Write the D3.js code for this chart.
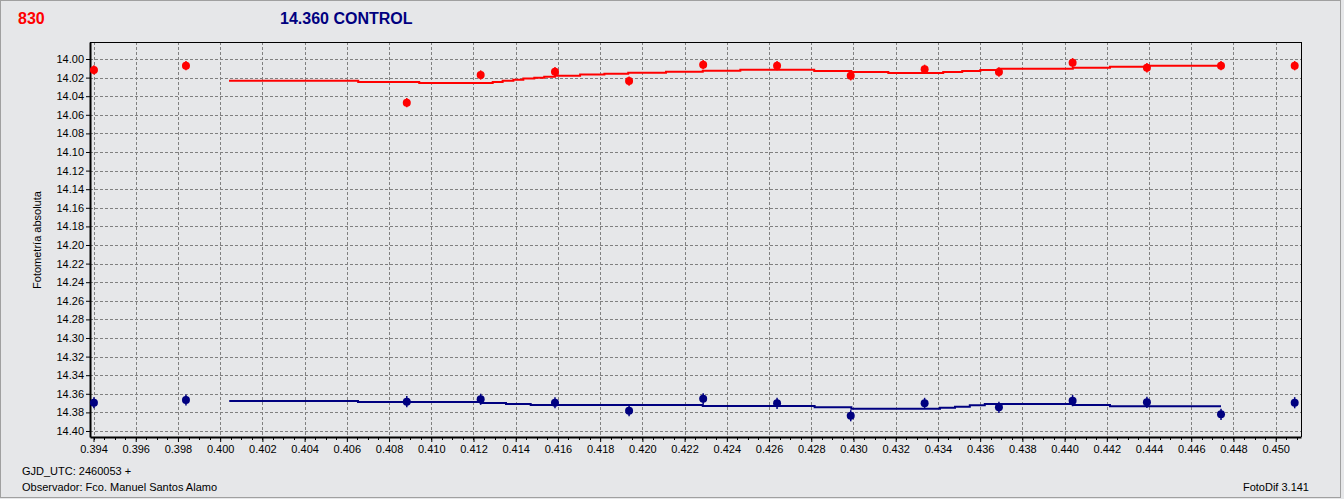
<!DOCTYPE html>
<html><head><meta charset="utf-8">
<script src="https://cdn.jsdelivr.net/npm/d3@7"></script>
<style>
html,body{margin:0;padding:0;background:#e6e7e9;}
svg{display:block;}
text{font-family:"Liberation Sans",Arial,sans-serif;}
</style></head>
<body>
<svg id="c" width="1344" height="499"></svg>
<script>
// ---- data ----
const xTicks = [0.394,0.396,0.398,0.400,0.402,0.404,0.406,0.408,0.410,0.412,0.414,0.416,0.418,0.420,0.422,0.424,0.426,0.428,0.430,0.432,0.434,0.436,0.438,0.440,0.442,0.444,0.446,0.448,0.450];
const yTicks = [14.00,14.02,14.04,14.06,14.08,14.10,14.12,14.14,14.16,14.18,14.20,14.22,14.24,14.26,14.28,14.30,14.32,14.34,14.36,14.38,14.40];
const obsX = [0.39402,0.39838,0.40884,0.41234,0.41586,0.41937,0.42288,0.42638,0.42987,0.43337,0.43689,0.44038,0.44390,0.44741,0.45090];
const varMag = [14.0118,14.0072,14.0470,14.0172,14.0137,14.0237,14.0061,14.0072,14.0180,14.0111,14.0140,14.0040,14.0094,14.0072,14.0072];
const varErr = [0.005,0.005,0.005,0.005,0.005,0.005,0.005,0.005,0.005,0.005,0.005,0.005,0.005,0.005,0.005];
const ctlMag = [14.3696,14.3667,14.3685,14.3659,14.3696,14.3782,14.3653,14.3703,14.3836,14.3703,14.3746,14.3674,14.3692,14.3821,14.3696];
const ctlErr = [0.006,0.006,0.006,0.006,0.006,0.006,0.006,0.006,0.006,0.006,0.006,0.006,0.006,0.006,0.006];
// smoothed (stepped) curves
const varLineX = [0.40042,0.40654,0.40943,0.41291,0.41338,0.41389,0.41436,0.41488,0.41535,0.41586,0.41705,0.41820,0.41933,0.42112,0.42286,0.42464,0.42814,0.42990,0.43165,0.43425,0.43515,0.43601,0.43687,0.44039,0.44215,0.44390,0.44741];
const varLineY = [14.0233,14.0247,14.0258,14.0247,14.0233,14.0222,14.0211,14.0201,14.0190,14.0179,14.0168,14.0158,14.0147,14.0136,14.0126,14.0115,14.0129,14.0140,14.0151,14.0140,14.0129,14.0118,14.0104,14.0094,14.0083,14.0072,14.0072];
const ctlLineX = [0.40043,0.40653,0.41234,0.41354,0.41471,0.42286,0.42816,0.42990,0.43410,0.43481,0.43551,0.43622,0.44039,0.44215,0.44741];
const ctlLineY = [14.3677,14.3688,14.3699,14.3710,14.3720,14.3731,14.3745,14.3760,14.3750,14.3739,14.3724,14.3710,14.3720,14.3735,14.3735];

const svg = d3.select("#c");
const L=90, R=1301, T=42, B=437;
const x = d3.scaleLinear().domain([0.393834,0.451199]).range([L,R]);
const y = d3.scaleLinear().domain([13.98172,14.40646]).range([T,B]);

// outer frame
svg.append("rect").attr("x",0.5).attr("y",0.5).attr("width",1340).attr("height",497)
  .attr("fill","#e6e7e9").attr("stroke","#a0a0a0");

// grid
const grid = svg.append("g").attr("stroke","#808080").attr("stroke-dasharray","3,2").attr("stroke-width",1);
xTicks.forEach(v=>grid.append("line").attr("x1",Math.round(x(v))+0.5).attr("x2",Math.round(x(v))+0.5).attr("y1",T).attr("y2",B));
yTicks.forEach(v=>grid.append("line").attr("y1",Math.round(y(v))+0.5).attr("y2",Math.round(y(v))+0.5).attr("x1",L).attr("x2",R));

// frame top/right thin
svg.append("line").attr("x1",L).attr("x2",R+0.5).attr("y1",T+0.5).attr("y2",T+0.5).attr("stroke","#000");
svg.append("line").attr("x1",R+0.5).attr("x2",R+0.5).attr("y1",T).attr("y2",B).attr("stroke","#000");

// axes
const minor = d3.range(0,57*4+1).map(i=>0.394+i*0.0005).filter(v=>v<=0.4512);
const xAxis = d3.axisBottom(x).tickValues(xTicks).tickFormat(d3.format(".3f")).tickSize(5).tickSizeOuter(0);
const gx = svg.append("g").attr("transform",`translate(0,${B})`).call(xAxis);
gx.select(".domain").attr("stroke","#000").attr("stroke-width",2);
gx.selectAll(".tick text").attr("font-size",11).attr("fill","#000").attr("dy","0.9em").attr("y",6);
gx.selectAll(".tick line").attr("stroke","#000");
const gm = svg.append("g");
minor.forEach(v=>gm.append("line").attr("x1",Math.round(x(v))+0.5).attr("x2",Math.round(x(v))+0.5).attr("y1",B).attr("y2",B+3).attr("stroke","#000"));

const yAxis = d3.axisLeft(y).tickValues(yTicks).tickFormat(d3.format(".2f")).tickSize(4).tickSizeOuter(0);
const gy = svg.append("g").attr("transform",`translate(${L},0)`).call(yAxis);
gy.select(".domain").attr("stroke","#000").attr("stroke-width",2);
gy.selectAll(".tick text").attr("font-size",11).attr("fill","#000").attr("x",-6);
gy.selectAll(".tick line").attr("stroke","#000");

// lines
function stepLine(xs,ys,color){
  const pts = xs.map((v,i)=>[x(v),y(ys[i])]);
  svg.append("path").attr("d",d3.line().curve(d3.curveStepAfter)(pts))
    .attr("fill","none").attr("stroke",color).attr("stroke-width",2);
}
stepLine(varLineX,varLineY,"#ff0000");
stepLine(ctlLineX,ctlLineY,"#000080");

// points
function pts(mags,errs,color){
  const g = svg.append("g");
  obsX.forEach((v,i)=>{
    g.append("line").attr("x1",x(v)).attr("x2",x(v)).attr("y1",y(mags[i]-errs[i])).attr("y2",y(mags[i]+errs[i]))
      .attr("stroke",color).attr("stroke-width",1.5);
    g.append("circle").attr("cx",x(v)).attr("cy",y(mags[i])).attr("r",4).attr("fill",color);
  });
}
pts(varMag,varErr,"#ff0000");
pts(ctlMag,ctlErr,"#000080");

// titles
svg.append("text").attr("x",18).attr("y",24).attr("font-size",16).attr("font-weight","bold").attr("fill","#ff0000").text("830");
svg.append("text").attr("x",280).attr("y",24).attr("font-size",16).attr("font-weight","bold").attr("fill","#000080").text("14.360 CONTROL");
svg.append("text").attr("transform","translate(41,240) rotate(-90)").attr("text-anchor","middle").attr("font-size",11).attr("fill","#000").text("Fotometría absoluta");
svg.append("text").attr("x",22).attr("y",475).attr("font-size",11).attr("fill","#000").text("GJD_UTC: 2460053 +");
svg.append("text").attr("x",22).attr("y",491).attr("font-size",11).attr("fill","#000").text("Observador: Fco. Manuel Santos Alamo");
svg.append("text").attr("x",1309).attr("y",491).attr("text-anchor","end").attr("font-size",11).attr("fill","#000").text("FotoDif 3.141");
</script>
</body></html>
